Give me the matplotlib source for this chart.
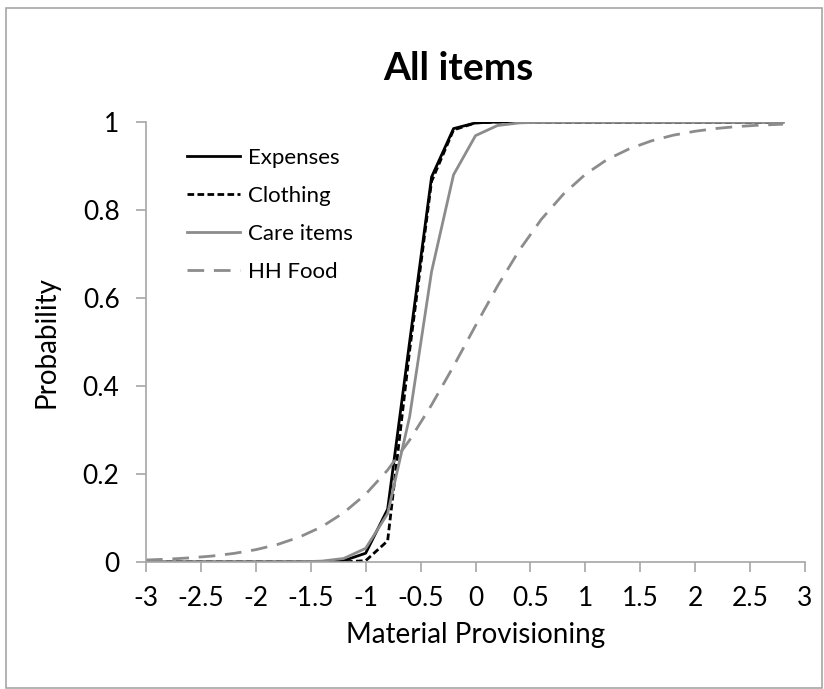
import matplotlib
matplotlib.use("Agg")
import matplotlib.pyplot as plt
from matplotlib.patches import Rectangle

plt.rcParams['font.family'] = ['Lato', 'DejaVu Sans']

x_vals = [-3.0, -2.8, -2.6, -2.4, -2.2, -2.0, -1.8, -1.6, -1.4, -1.2,
          -1.0, -0.8, -0.6, -0.4, -0.2, 0.0, 0.2, 0.4, 0.6, 0.8,
          1.0, 1.2, 1.4, 1.6, 1.8, 2.0, 2.2, 2.4, 2.6, 2.8]

expenses = [0.0, 0.0, 0.0, 0.0, 0.0, 0.0, 0.0, 0.0001, 0.0005, 0.003,
            0.02, 0.12, 0.50, 0.875, 0.985, 0.998, 1.0, 1.0, 1.0, 1.0,
            1.0, 1.0, 1.0, 1.0, 1.0, 1.0, 1.0, 1.0, 1.0, 1.0]

clothing = [0.0, 0.0, 0.0, 0.0, 0.0, 0.0, 0.0, 0.0, 0.0, 0.0003,
            0.003, 0.048, 0.48, 0.865, 0.982, 0.998, 1.0, 1.0, 1.0, 1.0,
            1.0, 1.0, 1.0, 1.0, 1.0, 1.0, 1.0, 1.0, 1.0, 1.0]

care_items = [0.0, 0.0, 0.0, 0.0, 0.0, 0.0, 0.0001, 0.0005, 0.002, 0.008,
              0.031, 0.11, 0.33, 0.66, 0.88, 0.969, 0.992, 0.998, 0.9995, 1.0,
              1.0, 1.0, 1.0, 1.0, 1.0, 1.0, 1.0, 1.0, 1.0, 1.0]

hh_food = [0.0045, 0.0065, 0.0094, 0.0135, 0.0195, 0.028, 0.040, 0.057, 0.080, 0.112,
           0.154, 0.209, 0.277, 0.357, 0.445, 0.537, 0.627, 0.709, 0.779, 0.836,
           0.881, 0.915, 0.939, 0.957, 0.970, 0.979, 0.9855, 0.990, 0.993, 0.995]

x_ticks = [-3, -2.5, -2, -1.5, -1, -0.5, 0, 0.5, 1, 1.5, 2, 2.5, 3]
x_tick_labels = ["-3", "-2.5", "-2", "-1.5", "-1", "-0.5", "0", "0.5", "1", "1.5", "2", "2.5", "3"]
y_ticks = [0, 0.2, 0.4, 0.6, 0.8, 1]
y_tick_labels = ["0", "0.2", "0.4", "0.6", "0.8", "1"]

fig = plt.figure(figsize=(8.24, 6.89), dpi=100)
ax = fig.add_axes([146 / 824, 1 - 562 / 689, 659 / 824, 440 / 689])

grey = '#8c8c8c'
ax.plot(x_vals, expenses, color='black', lw=2.0, label='Expenses')
ax.plot(x_vals, clothing, color='black', lw=2.0, ls=(0, (2.4, 1.2)), label='Clothing')
ax.plot(x_vals, care_items, color=grey, lw=2.0, label='Care items')
ax.plot(x_vals, hh_food, color=grey, lw=2.0, ls=(0, (6, 3.5)), label='HH Food')

ax.set_xlim(-3, 3)
ax.set_ylim(0, 1)
ax.set_xticks(x_ticks)
ax.set_xticklabels(x_tick_labels)
ax.set_yticks(y_ticks)
ax.set_yticklabels(y_tick_labels)

for side in ('top', 'right'):
    ax.spines[side].set_visible(False)
for side in ('left', 'bottom'):
    ax.spines[side].set_color('#a6a6a6')
    ax.spines[side].set_linewidth(1.2)
ax.tick_params(axis='both', direction='out', length=7, width=1.2, color='#a6a6a6',
               labelsize=19, labelcolor='black')
ax.tick_params(axis='y', pad=12)
ax.tick_params(axis='x', pad=10)

ax.set_xlabel('Material Provisioning', fontsize=20, labelpad=8)
ax.set_ylabel('Probability', fontsize=20, labelpad=17)

leg = ax.legend(loc='upper left', bbox_to_anchor=(0.062, 0.942), frameon=False,
                fontsize=16, handlelength=2.4, handletextpad=0.36, labelspacing=0.82,
                borderaxespad=0, borderpad=0)

fig.text(458 / 824, 1 - 68 / 689, 'All items', ha='center', va='center',
         fontsize=28, fontweight='bold')

fig.patches.append(Rectangle((6 / 824, 1 / 689), 816 / 824, 680 / 689,
                             transform=fig.transFigure, fill=False,
                             edgecolor='#a6a6a6', lw=1.2))

fig.savefig('out.png', dpi=100)
